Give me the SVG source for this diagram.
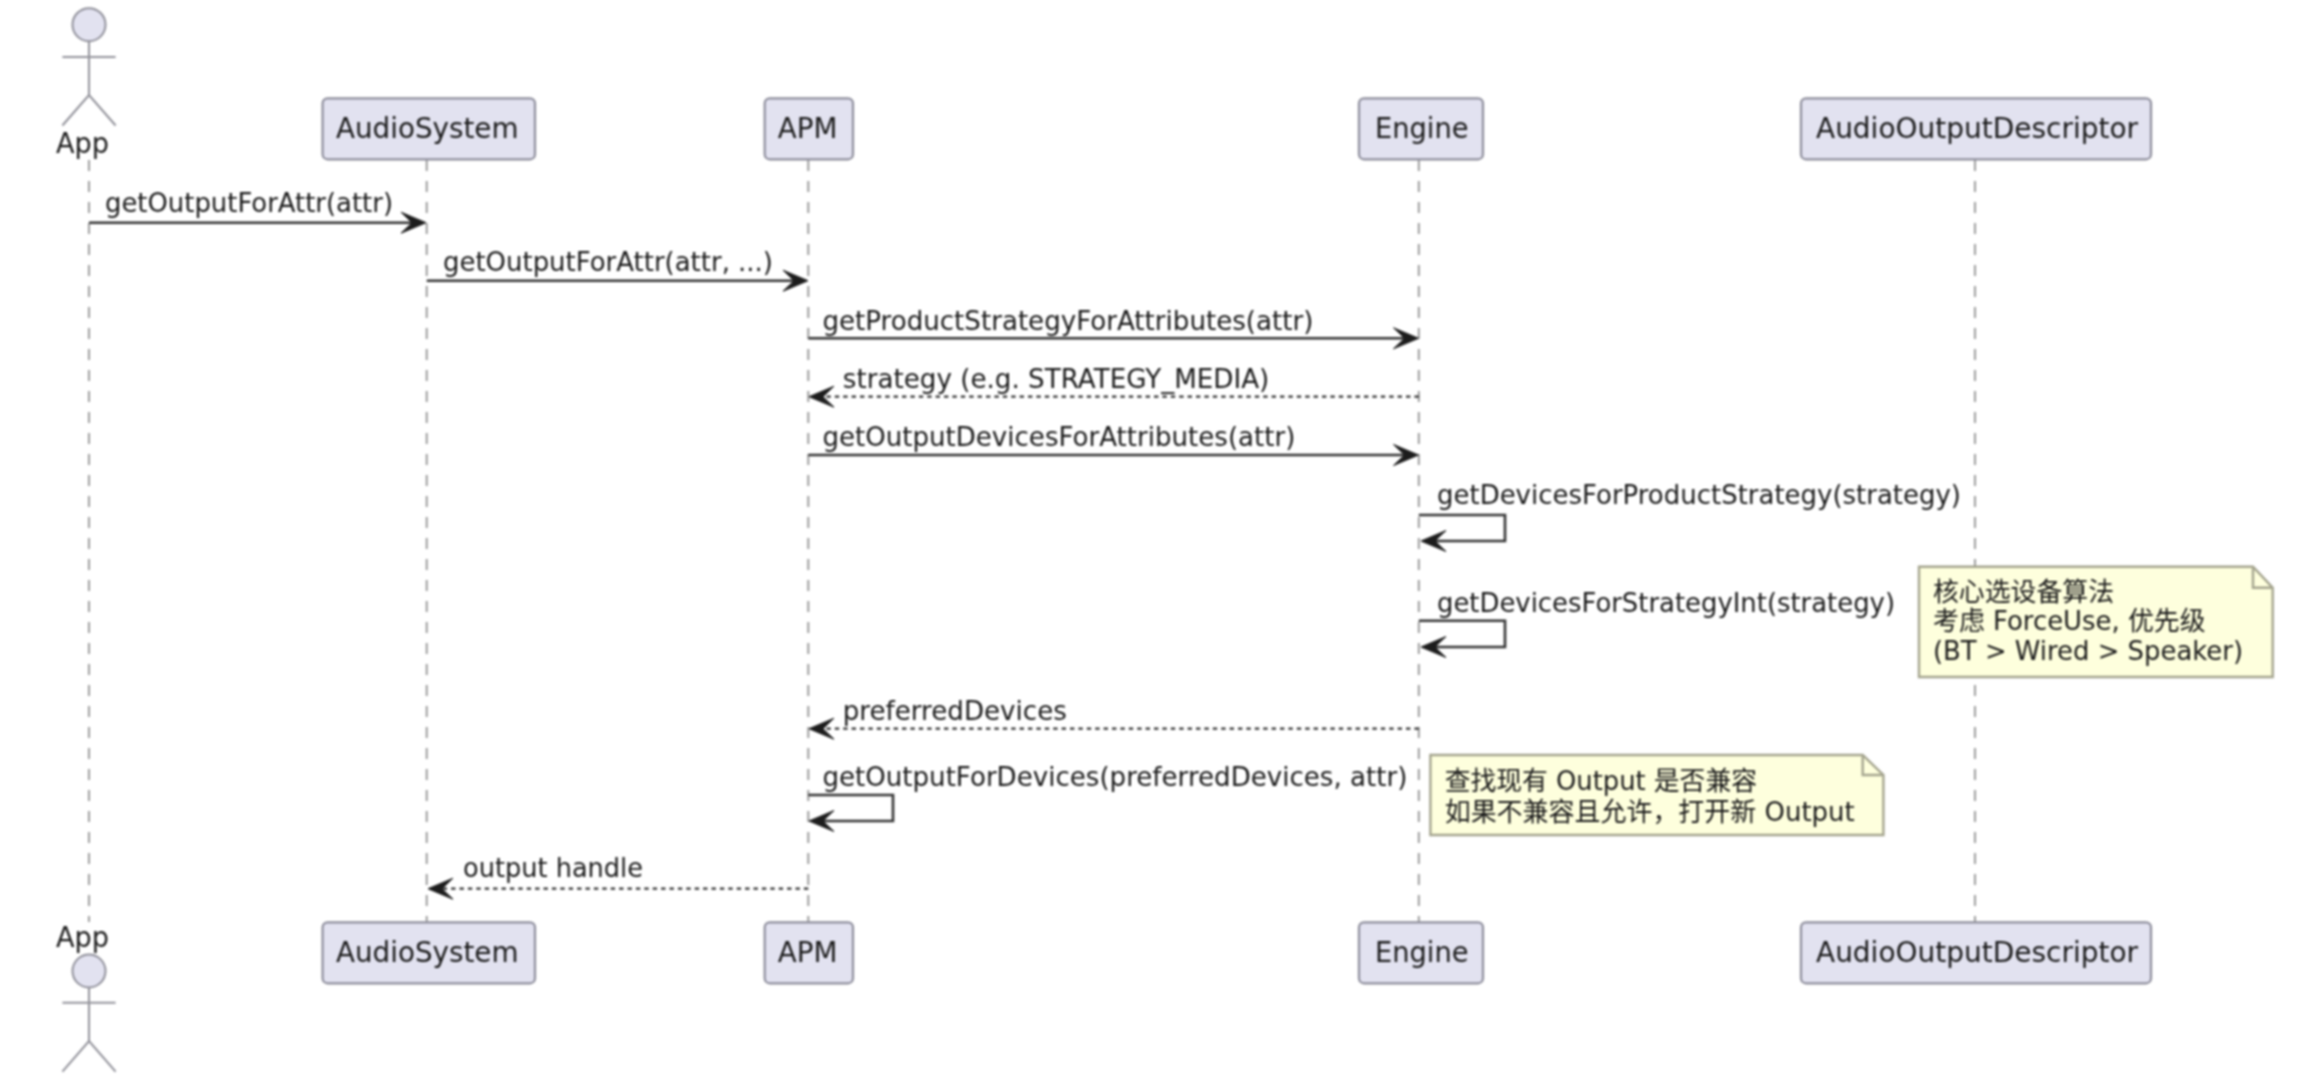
<svg xmlns="http://www.w3.org/2000/svg" width="2299" height="1081" viewBox="0 0 2299 1081">
<style>
text{font-family:"DejaVu Sans","Noto Sans CJK SC",sans-serif;fill:#1a1a1a}
.p{font-size:29px}
.m{font-size:26.500px}
.n{font-size:26.500px}
.box{fill:#E2E2F0;stroke:#8e8e9c;stroke-width:2.200}
.act{fill:#E2E2F0;stroke:#90909a;stroke-width:2}
.limb{fill:none;stroke:#92929a;stroke-width:2}
.life{stroke:#929292;stroke-width:1.800;stroke-dasharray:11 10;fill:none}
.msg{stroke:#333;stroke-width:2.600;fill:none;marker-end:url(#ah)}
.ret{stroke:#333;stroke-width:2.200;stroke-dasharray:4.400 4;fill:none;marker-end:url(#ah)}
.note{fill:#FEFFDD;stroke:#a4a48e;stroke-width:2.400}
.fold{fill:none;stroke:#a4a48e;stroke-width:2.400}
.soft{filter:blur(0.8px)}
</style>
<defs>
<marker id="ah" markerUnits="userSpaceOnUse" markerWidth="30" markerHeight="26" viewBox="0 0 30 26" refX="21" refY="13" orient="auto">
<path d="M2 2.500 L27 13 L2 23.500 L13 13 Z" fill="#1c1c1c" stroke="#1c1c1c" stroke-width="1"/>
</marker>
</defs>
<rect width="2299" height="1081" fill="#fff"/>
<g class="soft">
<g id="connectors">
<g id="lifelines">
<path class="life" d="M89 160V922"/>
<path class="life" d="M426.700 160V922"/>
<path class="life" d="M808.300 160V922"/>
<path class="life" d="M1418.800 160V922"/>
<path class="life" d="M1975 160V922"/>
</g>
<g id="messages">
<path class="msg" d="M89 222.700H420"/>
<text class="m" x="105" y="212" textLength="288" lengthAdjust="spacingAndGlyphs">getOutputForAttr(attr)</text>
<path class="msg" d="M426.700 280.700H802"/>
<text class="m" x="443" y="270.500" textLength="330" lengthAdjust="spacingAndGlyphs">getOutputForAttr(attr, ...)</text>
<path class="msg" d="M808.300 338.300H1412.500"/>
<text class="m" x="822.400" y="329.500" textLength="491" lengthAdjust="spacingAndGlyphs">getProductStrategyForAttributes(attr)</text>
<path class="ret" d="M1418.800 396.700H815"/>
<text class="m" x="842.800" y="388" textLength="426.500" lengthAdjust="spacingAndGlyphs">strategy (e.g. STRATEGY_MEDIA)</text>
<path class="msg" d="M808.300 455H1412.500"/>
<text class="m" x="822.400" y="446" textLength="473" lengthAdjust="spacingAndGlyphs">getOutputDevicesForAttributes(attr)</text>
<path class="msg" d="M1418.800 515H1505V541H1427"/>
<text class="m" x="1437" y="504" textLength="524" lengthAdjust="spacingAndGlyphs">getDevicesForProductStrategy(strategy)</text>
<path class="msg" d="M1418.800 620.700H1505V647H1427"/>
<text class="m" x="1437" y="611.500" textLength="458" lengthAdjust="spacingAndGlyphs">getDevicesForStrategyInt(strategy)</text>
<path class="ret" d="M1418.800 728.700H815"/>
<text class="m" x="842.800" y="719.500" textLength="224" lengthAdjust="spacingAndGlyphs">preferredDevices</text>
<path class="msg" d="M808.300 795H893V821H815"/>
<text class="m" x="822.400" y="785.500" textLength="585" lengthAdjust="spacingAndGlyphs">getOutputForDevices(preferredDevices, attr)</text>
<path class="ret" d="M808.300 888.700H434"/>
<text class="m" x="463" y="877" textLength="180" lengthAdjust="spacingAndGlyphs">output handle</text>
</g>
</g>
<g id="App-top">
<circle class="act" cx="89" cy="24.700" r="16.500"/>
<path class="limb" d="M89 41.200V95M62.400 57H115.600M62.400 125.500L89 95L115.600 125.500"/>
<text class="p" x="56" y="153" textLength="53" lengthAdjust="spacingAndGlyphs">App</text>
</g>
<g id="AudioSystem-top">
<rect class="box" x="322.600" y="98.300" width="212.400" height="61" rx="5"/>
<text class="p" x="336" y="137.500" textLength="182.500" lengthAdjust="spacingAndGlyphs">AudioSystem</text>
</g>
<g id="APM-top">
<rect class="box" x="764.700" y="98.300" width="88.300" height="61" rx="5"/>
<text class="p" x="777.800" y="137.500" textLength="59.600" lengthAdjust="spacingAndGlyphs">APM</text>
</g>
<g id="Engine-top">
<rect class="box" x="1359" y="98.300" width="124" height="61" rx="5"/>
<text class="p" x="1375" y="137.500" textLength="93.500" lengthAdjust="spacingAndGlyphs">Engine</text>
</g>
<g id="AudioOutputDescriptor-top">
<rect class="box" x="1801" y="98.300" width="350" height="61" rx="5"/>
<text class="p" x="1816" y="137.500" textLength="322" lengthAdjust="spacingAndGlyphs">AudioOutputDescriptor</text>
</g>
<g id="note-selection">
<path class="note" d="M1919 566.700H2253L2272.700 587.700V677H1919Z"/>
<path class="fold" d="M2253 566.700V587.700H2272.700"/>
<text class="n" x="1933" y="600.500" textLength="181" lengthAdjust="spacingAndGlyphs">核心选设备算法</text>
<text class="n" x="1933" y="630" textLength="272.600" lengthAdjust="spacingAndGlyphs">考虑 ForceUse, 优先级</text>
<text class="n" x="1933" y="660" textLength="310" lengthAdjust="spacingAndGlyphs">(BT &gt; Wired &gt; Speaker)</text>
</g>
<g id="note-output">
<path class="note" d="M1430.400 755H1862.700L1883.400 775V835H1430.400Z"/>
<path class="fold" d="M1862.700 755V775H1883.400"/>
<text class="n" x="1444.700" y="790" textLength="312.300" lengthAdjust="spacingAndGlyphs">查找现有 Output 是否兼容</text>
<text class="n" x="1444.700" y="820.500" textLength="410" lengthAdjust="spacingAndGlyphs">如果不兼容且允许，打开新 Output</text>
</g>
<g id="App-bottom">
<text class="p" x="56" y="947" textLength="53" lengthAdjust="spacingAndGlyphs">App</text>
<circle class="act" cx="89" cy="971" r="16.500"/>
<path class="limb" d="M89 987.500V1041M62.400 1002.700H115.600M62.400 1071.700L89 1041L115.600 1071.700"/>
</g>
<g id="AudioSystem-bottom">
<rect class="box" x="322.600" y="922.300" width="212.400" height="61" rx="5"/>
<text class="p" x="336" y="961.500" textLength="182.500" lengthAdjust="spacingAndGlyphs">AudioSystem</text>
</g>
<g id="APM-bottom">
<rect class="box" x="764.700" y="922.300" width="88.300" height="61" rx="5"/>
<text class="p" x="777.800" y="961.500" textLength="59.600" lengthAdjust="spacingAndGlyphs">APM</text>
</g>
<g id="Engine-bottom">
<rect class="box" x="1359" y="922.300" width="124" height="61" rx="5"/>
<text class="p" x="1375" y="961.500" textLength="93.500" lengthAdjust="spacingAndGlyphs">Engine</text>
</g>
<g id="AudioOutputDescriptor-bottom">
<rect class="box" x="1801" y="922.300" width="350" height="61" rx="5"/>
<text class="p" x="1816" y="961.500" textLength="322" lengthAdjust="spacingAndGlyphs">AudioOutputDescriptor</text>
</g>
</g>
</svg>
